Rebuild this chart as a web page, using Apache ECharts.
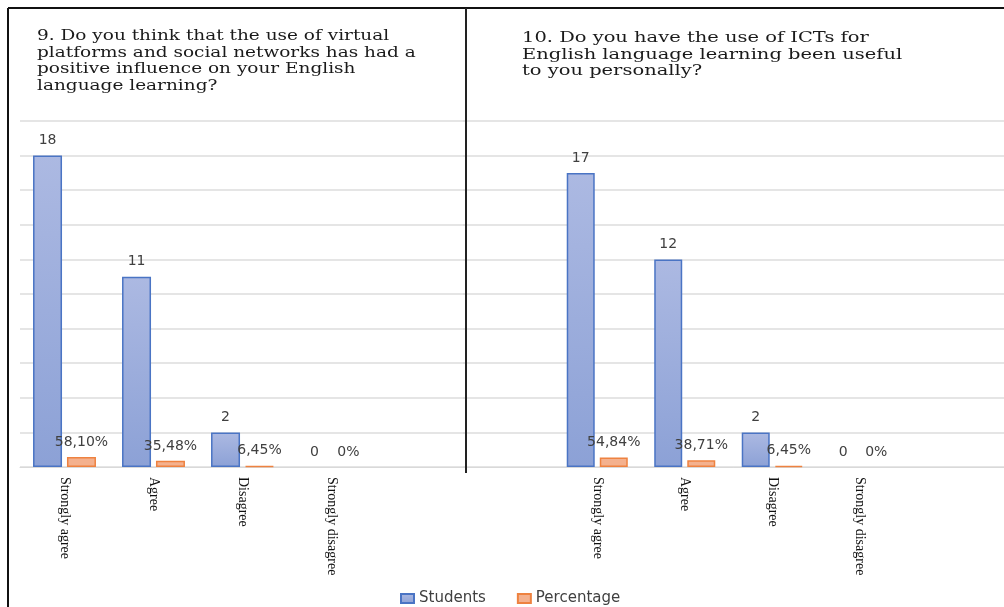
<!DOCTYPE html>
<html>
<head>
<meta charset="utf-8">
<script src="https://cdn.jsdelivr.net/npm/echarts@6/dist/echarts.min.js"></script>
<style>
  html, body { margin: 0; padding: 0; background: #ffffff; }
  #chart { width: 1004px; height: 607px; }
</style>
</head>
<body>
<div id="chart"></div>
<script>
// Survey answers for questions 9 and 10
const categories = ['Strongly agree', 'Agree', 'Disagree', 'Strongly disagree'];
const studentsQ9 = [18, 11, 2, 0];
const percentQ9 = [58.10, 35.48, 6.45, 0];
const studentsQ10 = [17, 12, 2, 0];
const percentQ10 = [54.84, 38.71, 6.45, 0];
const seriesNames = ['Students', 'Percentage'];
const titleQ9 = '9. Do you think that the use of virtual\nplatforms and social networks has had a\npositive influence on your English\nlanguage learning?';
const titleQ10 = '10. Do you have the use of ICTs for\nEnglish language learning been useful\nto you personally?';

// The right panel keeps one empty slot on each side of the answers
const catsRight = [''].concat(categories, ['']);
const padRight = arr => [null].concat(arr, [null]);
const catsLeft = categories.concat(['']);
const padLeft = arr => arr.concat([null]);

const fmtPct = v => (v === 0 ? '0%' : v.toFixed(2).replace('.', ',') + '%');

const blueFill = {
  type: 'linear', x: 0, y: 0, x2: 0, y2: 1,
  colorStops: [{ offset: 0, color: '#acb9e2' }, { offset: 1, color: '#8ca1d6' }]
};
const blueStyle = { color: blueFill, borderColor: '#4a74c4', borderWidth: 1.5 };
const orangeStyle = { color: '#f4b18e', borderColor: '#ee8240', borderWidth: 1.5 };
// zero-height bars leave no outline on the axis
const noOutline = { borderWidth: 0 };

const valueLabel = {
  show: true, position: 'top', distance: 8,
  fontFamily: 'DejaVu Sans', fontSize: 14, color: '#404040'
};

function xAxisFor(gridIndex, data, showLine) {
  return {
    type: 'category', gridIndex: gridIndex, data: data,
    axisLine: { show: showLine, lineStyle: { color: '#d9d9d9', width: 1 } },
    axisTick: { show: false },
    axisLabel: {
      rotate: -90, margin: 10, interval: 0,
      fontFamily: 'Liberation Serif', fontSize: 14, color: '#111111'
    }
  };
}
function yAxisFor(gridIndex, showGrid) {
  return {
    type: 'value', gridIndex: gridIndex, min: 0, max: 20, interval: 2,
    axisLabel: { show: false }, axisLine: { show: false }, axisTick: { show: false },
    splitLine: { show: showGrid, lineStyle: { color: '#dcdcdc', width: 1.5 } }
  };
}

function pctSeries(vals, axisIdx, pad, width, gap) {
  return {
    name: seriesNames[1], type: 'bar', xAxisIndex: axisIdx, yAxisIndex: axisIdx,
    barWidth: width, barGap: gap,
    data: pad(vals.map(v => ({ value: v / 100, pct: v, itemStyle: v === 0 ? noOutline : undefined }))),
    itemStyle: orangeStyle,
    label: Object.assign({}, valueLabel, {
      formatter: p => fmtPct(p.data.pct)
    })
  };
}
function countSeries(vals, axisIdx, pad, width, gap) {
  return {
    name: seriesNames[0], type: 'bar', xAxisIndex: axisIdx, yAxisIndex: axisIdx,
    barWidth: width, barGap: gap,
    data: pad(vals.map(v => ({ value: v, itemStyle: v === 0 ? noOutline : undefined }))),
    itemStyle: blueStyle,
    label: valueLabel
  };
}

// question headings, drawn as wide serif text
function heading(text, x, y, sx) {
  return {
    type: 'text', left: x, top: y, scaleX: sx, originX: 0, z: 10,
    style: {
      text: text, fill: '#1a1a1a',
      font: '14px "DejaVu Serif"', lineHeight: 16.7
    }
  };
}

const chart = echarts.init(document.getElementById('chart'), null, { renderer: 'canvas' });
chart.setOption({
  animation: false,
  backgroundColor: '#ffffff',
  legend: {
    data: seriesNames, left: 395, top: 586, icon: 'rect',
    itemWidth: 13, itemHeight: 9, itemGap: 31,
    textStyle: { fontFamily: 'DejaVu Sans', fontSize: 15, color: '#404040' }
  },
  grid: [
    { left: 20, top: 121, width: 445, height: 346 },
    { left: 466, top: 121, right: 13, height: 346 },
    // gridlines and baseline spanning the full width of the right panel
    { left: 463, top: 121, right: 0, height: 346 }
  ],
  xAxis: [
    xAxisFor(0, catsLeft, true),
    xAxisFor(1, catsRight, false),
    Object.assign(xAxisFor(2, [''], true), { axisLabel: { show: false } })
  ],
  yAxis: [yAxisFor(0, true), yAxisFor(1, false), yAxisFor(2, true)],
  series: [
    countSeries(studentsQ9, 0, padLeft, 29, '17%'),
    pctSeries(percentQ9, 0, padLeft, 29, '17%'),
    countSeries(studentsQ10, 1, padRight, 28, '18%'),
    pctSeries(percentQ10, 1, padRight, 28, '18%')
  ],
  graphic: [
    heading(titleQ9, 37, 28, 1.32),
    heading(titleQ10, 522, 30, 1.39),
    // outer frame (top and left edges) and the divider between the two panels
    { type: 'line', shape: { x1: 8, y1: 8, x2: 1004, y2: 8 }, style: { stroke: '#111111', lineWidth: 2 }, z: 10 },
    { type: 'line', shape: { x1: 8, y1: 8, x2: 8, y2: 607 }, style: { stroke: '#111111', lineWidth: 2 }, z: 10 },
    { type: 'line', shape: { x1: 466, y1: 8, x2: 466, y2: 473 }, style: { stroke: '#222222', lineWidth: 2 }, z: 10 }
  ]
});
</script>
</body>
</html>
